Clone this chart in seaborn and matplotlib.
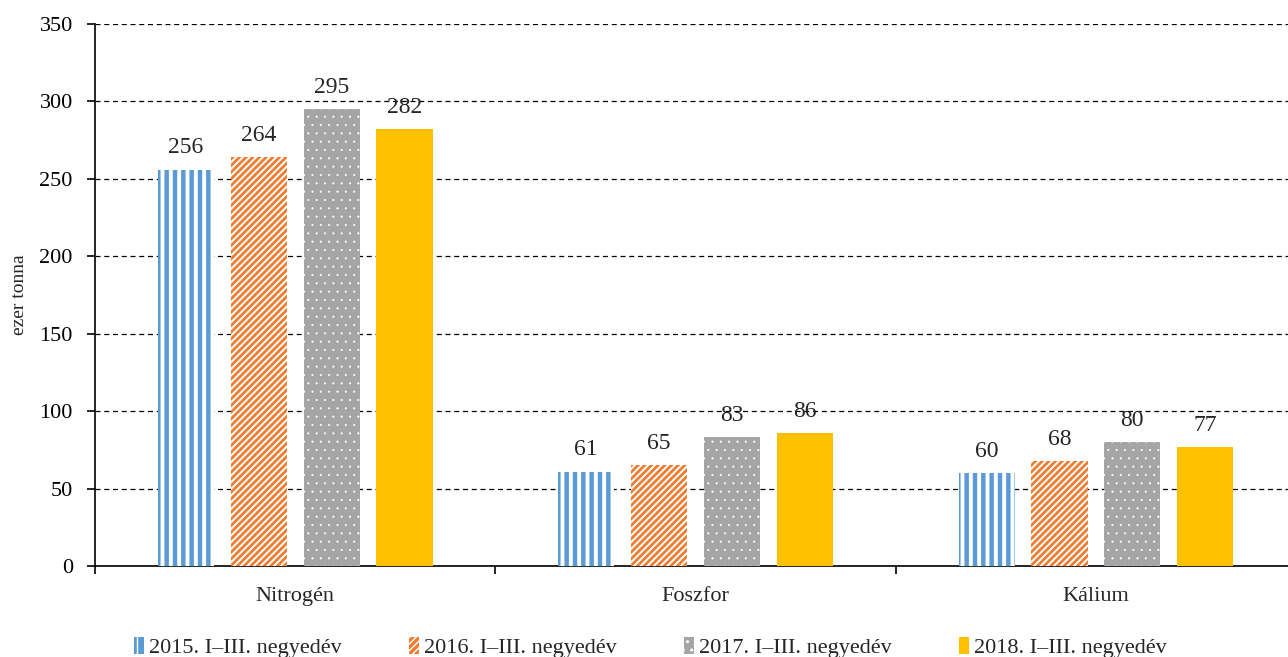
import pandas as pd
import matplotlib.pyplot as plt
import seaborn as sns

# adatok
categories = ["Nitrogén", "Foszfor", "Kálium"]
periods = ["2015. I–III. negyedév", "2016. I–III. negyedév",
           "2017. I–III. negyedév", "2018. I–III. negyedév"]
v2015 = [256, 61, 60]
v2016 = [264, 65, 68]
v2017 = [295, 83, 80]
v2018 = [282, 86, 77]
y_ticks = [0, 50, 100, 150, 200, 250, 300, 350]

colors = ["#5B9BD5", "#ED7D31", "#A5A5A5", "#FFC000"]
hatches = ["||", "/////", "..", None]
hatch_lw = [2.8, 1.4, 0.3, 1.0]

df = pd.DataFrame({
    "kategoria": categories * 4,
    "idoszak": [p for p in periods for _ in categories],
    "ertek": v2015 + v2016 + v2017 + v2018,
})

sns.set_style("white")
plt.rcParams["font.family"] = ["Liberation Serif", "DejaVu Serif"]

fig = plt.figure(figsize=(12.88, 6.57), dpi=100)
ax = fig.add_axes([0.0738, 0.1385, 0.9325, 0.825])

sns.barplot(data=df, x="kategoria", y="ertek", hue="idoszak", order=categories,
            hue_order=periods, palette=colors, width=0.728, gap=0.23,
            legend=False, ax=ax, zorder=3)

for cont, col, h, lw in zip(ax.containers, colors, hatches, hatch_lw):
    for bar in cont:
        bar.set_facecolor(col)
        bar.set_linewidth(0)
        if h:
            bar.set_hatch(h)
            bar.set_edgecolor("white")
            bar.set_hatch_linewidth(lw)
        else:
            bar.set_edgecolor(col)
    ax.bar_label(cont, fmt="%d", padding=8, fontsize=17)

ax.set_ylim(0, 350)
ax.set_yticks(y_ticks)
ax.set_xlim(-0.5, 2.5)
ax.yaxis.grid(True, color="black", linestyle=(0, (4, 3)), linewidth=0.9, zorder=0)
ax.set_axisbelow(True)
for s in ["top", "right"]:
    ax.spines[s].set_visible(False)
ax.spines["left"].set_color("black")
ax.spines["bottom"].set_color("black")
ax.spines["left"].set_linewidth(1.2)
ax.spines["bottom"].set_linewidth(1.2)

ax.tick_params(axis="y", which="major", direction="out", length=6, width=1.2,
               labelsize=16, left=True, pad=10, colors="black")
ax.tick_params(axis="x", which="major", length=0, labelsize=16, pad=15)
ax.set_xticks([-0.5, 0.5, 1.5, 2.5], minor=True)
ax.tick_params(axis="x", which="minor", direction="out", length=6, width=1.2,
               bottom=True, colors="black")

ax.set_xlabel("")
ax.set_ylabel("ezer tonna", fontsize=14, labelpad=8)

ax.legend(handles=ax.containers, labels=periods, loc="lower center",
          bbox_to_anchor=(0.505, -0.032), bbox_transform=fig.transFigure,
          ncol=4, frameon=False, fontsize=16, handlelength=0.45,
          handleheight=0.8, handletextpad=0.25, columnspacing=3.0)

fig.savefig("out.png", dpi=100)
